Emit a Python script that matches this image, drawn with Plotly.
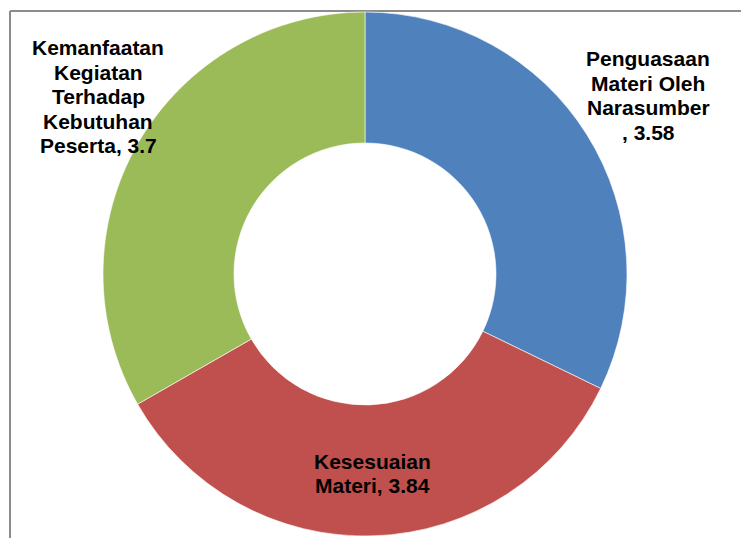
import plotly.graph_objects as go

categories = ["Penguasaan Materi Oleh Narasumber", "Kesesuaian Materi", "Kemanfaatan Kegiatan Terhadap Kebutuhan Peserta"]
values = [3.58, 3.84, 3.7]
colors = ["#4F81BD", "#C0504D", "#9BBB59"]
label_lines = [
    ["Penguasaan", "Materi Oleh", "Narasumber", ", 3.58"],
    ["Kesesuaian", "Materi, 3.84"],
    ["Kemanfaatan", "Kegiatan", "Terhadap", "Kebutuhan", "Peserta, 3.7"],
]
# first-line centre of each label block, in figure pixels (x from left, y from top)
label_pos = [(640, 51), (364, 453), (90, 40)]
LINE_STEP = 24.4

# page body has an 8px margin, so the figure is 8px smaller than the window
W, H = 741, 530
CX, CY, R = 357, 266, 262

fig = go.Figure(go.Pie(
    labels=categories,
    values=values,
    sort=False,
    direction="clockwise",
    rotation=0,
    hole=0.5,
    marker=dict(colors=colors, line=dict(color="white", width=0.6)),
    textinfo="none",
    hoverinfo="label+value",
    showlegend=False,
    domain=dict(x=[(CX - R) / W, (CX + R) / W],
                y=[(H - CY - R) / H, (H - CY + R) / H]),
))

for lines, (px, py) in zip(label_lines, label_pos):
    for i, line in enumerate(lines):
        fig.add_annotation(
            x=px / W, y=1 - (py + i * LINE_STEP) / H, xref="paper", yref="paper",
            text=line, showarrow=False, align="center",
            xanchor="center", yanchor="middle",
            font=dict(family="Liberation Sans, Arial", size=21, color="black", weight="bold"),
        )

# chart border (left and top edges visible)
fig.add_shape(type="line", xref="paper", yref="paper",
              x0=2 / W, x1=1.02, y0=1 - 3 / H, y1=1 - 3 / H,
              line=dict(color="#8c8c8c", width=2), layer="below")
fig.add_shape(type="line", xref="paper", yref="paper",
              x0=2 / W, x1=2 / W, y0=-0.02, y1=1 - 3 / H,
              line=dict(color="#8c8c8c", width=2), layer="below")

fig.update_layout(
    width=W, height=H,
    margin=dict(l=0, r=0, t=0, b=0),
    paper_bgcolor="white", plot_bgcolor="white",
)

fig.write_html("out.html")
